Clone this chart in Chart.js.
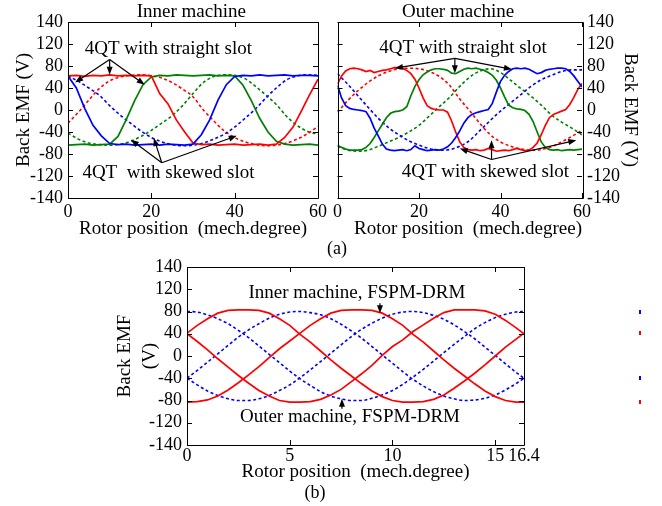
<!DOCTYPE html>
<html>
<head>
<meta charset="utf-8">
<script src="https://cdn.jsdelivr.net/npm/chart.js@4.4.0/dist/chart.umd.min.js"></script>
<style>
  body { margin: 0; background: #fff; width: 662px; height: 506px; position: relative; overflow: hidden; font-family: "Liberation Serif", "Times New Roman", serif; }
  .box { position: absolute; }
  .cap { position: absolute; font-size: 18px; transform: translate(-50%, -50%); }
  .tick { position: absolute; left: 639px; width: 2px; height: 4px; }
</style>
</head>
<body>
<div class="box" style="left:0;top:0;width:330px;height:240px"><canvas id="inner"></canvas></div>
<div class="box" style="left:330px;top:0;width:332px;height:240px"><canvas id="outer"></canvas></div>
<div class="box" style="left:90px;top:250px;width:572px;height:256px"><canvas id="drm"></canvas></div>
<div class="cap" style="left:337px;top:248px">(a)</div>
<div class="cap" style="left:315px;top:492px">(b)</div>
<div class="tick" style="top:310px;background:#00f"></div>
<div class="tick" style="top:331px;background:#f00"></div>
<div class="tick" style="top:376px;background:#00f"></div>
<div class="tick" style="top:400px;background:#f00"></div>
<script>
// y axis: ticks every 40, end ticks labelled 140 like the original figure
const yTickValues = [-160, -120, -80, -40, 0, 40, 80, 120, 160];
const yTickLabels = ['-140', '-120', '-80', '-40', '0', '40', '80', '120', '140'];
const xTicks4QT = [0, 20, 40, 60];
const xTicksDrm = [0, 5, 10, 15, 16.4];

// (a) inner machine, 4QT
const xInnerStraight = [0,2,4,6,8,10,12,14,16,18,20,22,24,26,28,30,32,34,36,38,40,42,44,46,48,50,52,54,56,58,60];
const innerBlueStraight  = [62,40,3,-28,-47,-61,-63,-62,-64,-63,-62,-64,-62,-63,-64,-62,-45,-18,18,46,61,63,62,64,62,63,64,62,63,63,62];
const innerRedStraight   = [62,63,61,63,62,64,62,63,62,63,62,30,11,-18,-40,-60,-63,-62,-64,-63,-62,-64,-63,-62,-64,-62,-50,-31,-2,28,56];
const innerGreenStraight = [-64,-63,-62,-64,-63,-62,-48,-17,17,46,60,63,62,64,63,62,63,64,62,63,62,45,17,-15,-40,-57,-62,-64,-63,-62,-64];

const xSkewed = [0,2.5,5,7.5,10,12.5,15,17.5,20,22.5,25,27.5,30,32.5,35,37.5,40,42.5,45,47.5,50,52.5,55,57.5,60];
const innerBlueSkewed  = [62,52,40,27,8,-9,-24,-38,-50,-58,-63,-65,-64,-60,-53,-44,-31,-15,2,22,40,55,62,64,63];
const innerRedSkewed   = [-24,-4,18,39,53,60,63,64,62,58,50,38,24,0,-20,-38,-50,-58,-63,-65,-64,-60,-53,-43,-30];
const innerGreenSkewed = [-42,-53,-60,-63,-64,-62,-57,-48,-37,-24,-10,8,30,50,61,64,63,57,43,27,10,-12,-28,-39,-44];

// (a) outer machine, 4QT
const xOuterStraight = [0,1,2,3,4,5,6,7,8,9,10,11,12,13,14,15,16,17,18,19,20,21,22,23,24,25,26,27,28,29,30,
  31,32,33,34,35,36,37,38,39,40,41,42,43,44,45,46,47,48,49,50,51,52,53,54,55,56,57,58,59,60];
const outerRedStraight = [47,62,71,75,76,75,73,70,72,68,70,72,73,75,77,77,76,72,66,56,40,22,8,3,1,0,0,-4,-20,-40,
  -58,-68,-72,-73,-72,-74,-73,-70,-72,-75,-74,-73,-74,-72,-70,-72,-74,-73,-68,-60,-45,-28,-14,-8,-5,-2,1,10,23,38,48];
const outerBlueStraight = [45,22,8,3,1,0,-1,-3,-15,-33,-47,-62,-71,-73,-74,-73,-72,-74,-72,-65,-70,-72,-74,-73,-72,-73,-71,-67,-60,-50,
  -38,-24,-14,-8,-5,-3,-1,1,12,33,52,63,70,75,76,75,76,74,70,66,68,72,74,75,76,76,75,70,62,52,42];
const outerGreenStraight = [-64,-68,-71,-73,-73,-73,-72,-68,-61,-50,-38,-26,-14,-6,-3,-2,0,6,26,43,55,64,69,73,75,75,74,72,67,66,
  70,74,76,75,76,74,72,68,63,54,40,24,9,4,2,1,-1,-8,-21,-40,-58,-68,-72,-73,-72,-74,-73,-72,-73,-72,-71];

const outerRedSkewed   = [-4,17,35,50,62,70,75,76,75,70,61,45,20,-2,-25,-45,-58,-66,-71,-73,-72,-67,-58,-48,-37];
const outerBlueSkewed  = [66,47,26,5,-15,-32,-45,-56,-64,-70,-73,-72,-66,-55,-37,-19,-2,13,28,43,55,63,70,73,73];
const outerGreenSkewed = [-66,-73,-75,-73,-66,-58,-50,-40,-28,-11,6,23,43,60,71,75,68,54,39,25,9,-9,-22,-33,-45];

// (b) FSPM-DRM
const xDrm = [0,0.5,1,1.5,2,2.5,3,3.5,4,4.5,5,5.5,6,6.5,7,7.5,8,8.5,9,9.5,10,10.5,11,11.5,12,12.5,13,13.5,14,14.5,15,15.5,16,16.4];
const drmOuterA = [41,55,67,77,82,83,83,82,77,67,55,39,25,9,-7,-22,-36,-50,-63,-73,-80,-83,-83,-82,-78,-70,-58,-45,-31,-16,0,16,30,41];
const drmOuterB = [-83,-82,-79,-72,-61,-48,-34,-19,-3,13,27,41,55,67,77,82,83,83,82,77,67,55,39,25,9,-7,-22,-36,-50,-63,-73,-80,-83,-83];
const drmOuterC = [40,26,11,-5,-20,-35,-49,-62,-72,-80,-83,-83,-82,-78,-70,-60,-46,-32,-17,1,17,29,44,56,68,78,83,83,83,81,75,64,51,40];
const drmInnerA = [80,79,74,67,58,46,33,18,3,-12,-27,-41,-53,-64,-72,-77,-80,-80,-76,-70,-62,-51,-38,-24,-9,6,21,35,49,60,69,75,79,80];
const drmInnerB = [-40,-26,-11,4,19,34,47,58,68,75,79,80,78,74,67,57,45,32,17,2,-13,-28,-42,-54,-64,-72,-77,-80,-79,-76,-70,-61,-50,-40];
const drmInnerC = [-40,-52,-63,-71,-77,-80,-80,-77,-71,-62,-52,-39,-25,-10,5,20,35,48,59,68,75,79,80,78,73,66,56,44,31,16,1,-14,-29,-40];

const serif = '"Liberation Serif", "Times New Roman", serif';
const font = { family: serif, size: 18 };
const titleFont = { family: serif, size: 19 };
const RED = '#ff0000', BLUE = '#0000ff', GREEN = '#008000';

const pts = (xs, ys) => ys.map((y, i) => ({ x: xs[i], y }));
const solid = (xs, ys, color) => ({ data: pts(xs, ys), borderColor: color, borderWidth: 1.7, pointRadius: 0, tension: 0 });
const dashed = (xs, ys, color) => ({ data: pts(xs, ys), borderColor: color, borderWidth: 1.6, pointRadius: 0,
  borderDash: [3, 2.5], cubicInterpolationMode: 'monotone' });

// box with inward ticks, labels and arrows (positions in data units)
function frame(notes) {
  return {
    id: 'frame',
    afterDatasetsDraw(chart) {
      const { ctx, chartArea: a, scales: { x, y } } = chart;
      const px = v => x.getPixelForValue(v), py = v => y.getPixelForValue(v);
      ctx.save();
      ctx.strokeStyle = '#000';
      ctx.fillStyle = '#000';
      ctx.lineWidth = 1;
      ctx.beginPath();
      ctx.rect(Math.round(a.left) + 0.5, Math.round(a.top) + 0.5, Math.round(a.width), Math.round(a.height));
      x.ticks.forEach(t => {
        const p = Math.round(px(t.value)) + 0.5;
        ctx.moveTo(p, a.bottom); ctx.lineTo(p, a.bottom - 5);
        ctx.moveTo(p, a.top); ctx.lineTo(p, a.top + 5);
      });
      y.ticks.forEach(t => {
        const p = Math.round(py(t.value)) + 0.5;
        ctx.moveTo(a.left, p); ctx.lineTo(a.left + 5, p);
        ctx.moveTo(a.right, p); ctx.lineTo(a.right - 5, p);
      });
      ctx.stroke();

      ctx.textAlign = 'center';
      ctx.textBaseline = 'middle';
      notes.texts.forEach(([text, vx, vy]) => {
        ctx.font = `19px ${serif}`;
        ctx.fillText(text, px(vx), py(vy));
      });

      ctx.lineWidth = 1.2;
      notes.arrows.forEach(([x0, y0, x1, y1]) => {
        const ax = px(x0), ay = py(y0), bx = px(x1), by = py(y1);
        const ang = Math.atan2(by - ay, bx - ax);
        const c = Math.cos(ang), s = Math.sin(ang);
        ctx.beginPath();
        ctx.moveTo(ax, ay);
        ctx.lineTo(bx - 5 * c, by - 5 * s);
        ctx.stroke();
        ctx.beginPath();
        ctx.moveTo(bx, by);
        ctx.lineTo(bx - 8 * c + 3 * s, by - 8 * s - 3 * c);
        ctx.lineTo(bx - 8 * c - 3 * s, by - 8 * s + 3 * c);
        ctx.closePath();
        ctx.fill();
      });
      ctx.restore();
    }
  };
}

function buildChart(id, datasets, cfg, notes) {
  return new Chart(document.getElementById(id), {
    type: 'line',
    data: { datasets },
    options: {
      responsive: true,
      maintainAspectRatio: false,
      animation: false,
      layout: { padding: cfg.padding },
      plugins: { legend: { display: false }, tooltip: { enabled: false } },
      scales: {
        x: {
          type: 'linear',
          min: cfg.xTicks[0],
          max: cfg.xTicks[cfg.xTicks.length - 1],
          afterBuildTicks: s => { s.ticks = cfg.xTicks.map(v => ({ value: v })); },
          afterFit: s => { s.height = cfg.xHeight; },
          grid: { display: false, drawTicks: false },
          border: { display: false },
          ticks: { font, color: '#000', padding: cfg.xTickPad, maxRotation: 0, autoSkip: false, callback: v => String(v) },
          title: { display: true, text: 'Rotor position  (mech.degree)', font: titleFont, color: '#000',
            align: cfg.xAlign || 'center', padding: { top: 0, bottom: cfg.xTitlePad } }
        },
        y: {
          position: cfg.yPos,
          min: -160,
          max: 160,
          afterBuildTicks: s => { s.ticks = yTickValues.map(v => ({ value: v })); },
          afterFit: s => { s.width = cfg.yWidth; },
          grid: { display: false, drawTicks: false },
          border: { display: false },
          ticks: { font, color: '#000', padding: 5, autoSkip: false, callback: (v, i) => yTickLabels[i] },
          title: { display: true, text: cfg.yTitle, font: { family: serif, size: 19, lineHeight: cfg.yLine || 1.2 },
            color: '#000', padding: { top: cfg.yTitlePad, bottom: 0 } }
        }
      }
    },
    plugins: [frame(notes)]
  });
}

buildChart('inner', [
  solid(xInnerStraight, innerBlueStraight, BLUE),
  solid(xInnerStraight, innerRedStraight, RED),
  solid(xInnerStraight, innerGreenStraight, GREEN),
  dashed(xSkewed, innerBlueSkewed, BLUE),
  dashed(xSkewed, innerRedSkewed, RED),
  dashed(xSkewed, innerGreenSkewed, GREEN)
], {
  padding: { top: 22, right: 11, bottom: 0, left: 0 },
  xTicks: xTicks4QT, xHeight: 42, xTickPad: 3, xTitlePad: 0,
  yPos: 'left', yWidth: 68, yTitle: 'Back EMF (V)', yTitlePad: 13
}, {
  texts: [['Inner machine', 29.6, 178], ['4QT with straight slot', 24.1, 111], ['4QT  with skewed slot', 24.1, -114.5]],
  arrows: [[10, 92, 1.7, 50], [10, 92, 10, 64], [10, 92, 18.4, 46],
           [22.5, -96, 15.1, -54], [22.5, -96, 20.6, -51], [22.5, -96, 40.5, -47]]
});

buildChart('outer', [
  solid(xOuterStraight, outerBlueStraight, BLUE),
  solid(xOuterStraight, outerRedStraight, RED),
  solid(xOuterStraight, outerGreenStraight, GREEN),
  dashed(xSkewed, outerBlueSkewed, BLUE),
  dashed(xSkewed, outerRedSkewed, RED),
  dashed(xSkewed, outerGreenSkewed, GREEN)
], {
  padding: { top: 22, right: 0, bottom: 0, left: 1 },
  xTicks: xTicks4QT, xHeight: 42, xTickPad: 3, xTitlePad: 0, xAlign: 'end',
  yPos: 'right', yWidth: 80, yTitle: 'Back EMF (V)', yTitlePad: 21
}, {
  texts: [['Outer machine', 29.6, 178], ['4QT with straight slot', 30.8, 112.7], ['4QT with skewed slot', 36.3, -112.7]],
  arrows: [[28.8, 94, 14.1, 76], [28.8, 94, 28.8, 67], [28.8, 94, 42.8, 74],
           [37.8, -90, 30, -70], [37.8, -90, 37.8, -55], [37.8, -90, 58.6, -55]]
});

buildChart('drm', [
  solid(xDrm, drmOuterA, RED),
  solid(xDrm, drmOuterB, RED),
  solid(xDrm, drmOuterC, RED),
  dashed(xDrm, drmInnerA, BLUE),
  dashed(xDrm, drmInnerB, BLUE),
  dashed(xDrm, drmInnerC, BLUE)
], {
  padding: { top: 17, right: 138, bottom: 21, left: 0 },
  xTicks: xTicksDrm, xHeight: 40, xTickPad: 0, xTitlePad: 2,
  yPos: 'left', yWidth: 97, yTitle: ['Back EMF', '(V)'], yLine: 1.3, yTitlePad: 23
}, {
  texts: [['Inner machine, FSPM-DRM', 8.27, 113], ['Outer machine, FSPM-DRM', 7.93, -110]],
  arrows: [[9.39, 95, 9.39, 77], [7.54, -95, 7.54, -77]]
});
</script>
</body>
</html>
